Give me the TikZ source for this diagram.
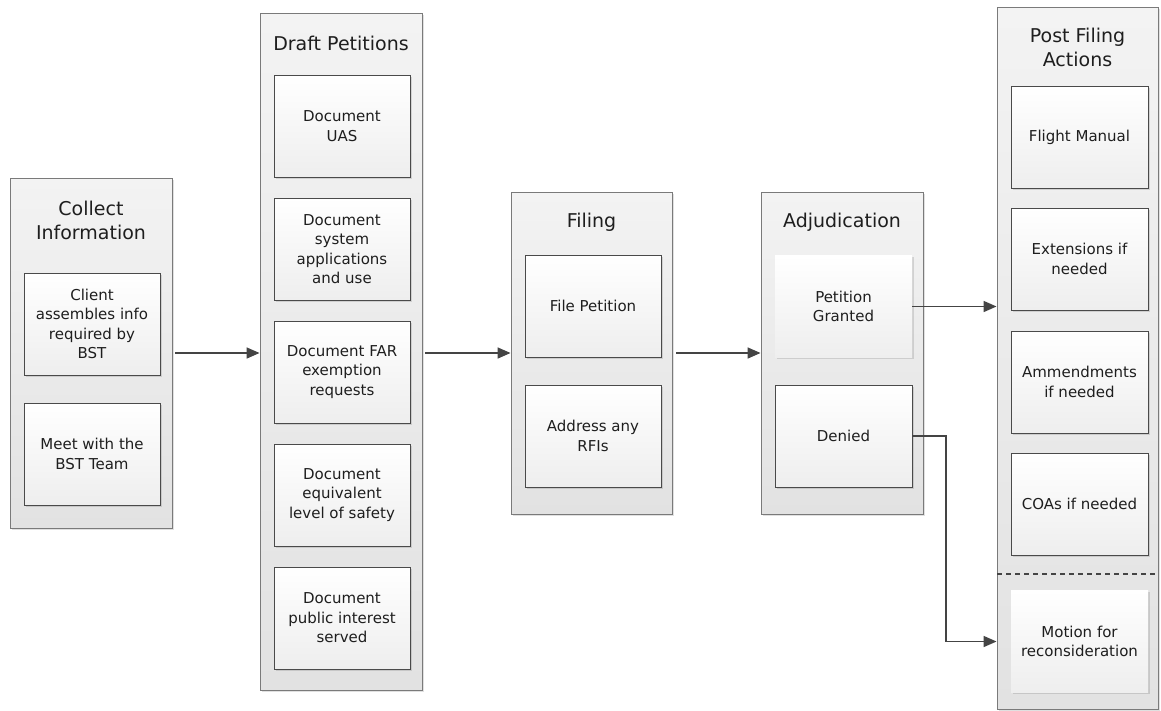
\documentclass[tikz,border=0pt]{standalone}
\usepackage{fontspec}
\setmainfont{DejaVu Sans}
\usetikzlibrary{arrows.meta,shadows}
\definecolor{txt}{HTML}{1E1E1E}
\definecolor{lnc}{HTML}{444444}
\definecolor{cbord}{HTML}{7A7A7A}
\definecolor{ctop}{HTML}{F3F3F3}
\definecolor{cbot}{HTML}{E2E2E2}
\definecolor{bbord}{HTML}{4A4A4A}
\definecolor{btop}{HTML}{FFFFFF}
\definecolor{bbot}{HTML}{EEEEEE}
\tikzset{
  lane/.style={draw=cbord, line width=0.9pt, top color=ctop, bottom color=cbot,
    minimum width=#1, inner sep=0pt,
    drop shadow={shadow xshift=2pt, shadow yshift=-2pt, opacity=0.12, fill=black}},
  lanetitle/.style={text=txt, align=center, font=\fontsize{19}{24}\selectfont, inner sep=0pt},
  stepbox/.style={draw=bbord, line width=0.9pt, top color=btop, bottom color=bbot,
    minimum width=136pt, minimum height=102pt, inner sep=0pt, align=center,
    text=txt, font=\fontsize{15}{19.5}\selectfont,
    drop shadow={shadow xshift=1.5pt, shadow yshift=-1.5pt, opacity=0.12, fill=black}},
  plainbox/.style={stepbox, draw=none},
  flow/.style={draw=lnc, line width=1.6pt, -{Triangle[length=13pt,width=11pt]}},
}
\begin{document}
\begin{tikzpicture}[x=1pt,y=-1pt]
\useasboundingbox (0,0) rectangle (1161,710);
% containers
\node[lane=162pt, minimum height=350pt] (collect) at (91,353) {};
\node[lane=162pt, minimum height=677pt] (draft) at (341,351.5) {};
\node[lane=161pt, minimum height=322pt] (filing) at (591.5,353) {};
\node[lane=162pt, minimum height=322pt] (adjud) at (842,353) {};
\node[lane=161pt, minimum height=702pt] (post) at (1077.5,358) {};
% titles
\node[lanetitle] (tcollect) at (91,220) {Collect\\Information};
\node[lanetitle] (tdraft) at (341,43) {Draft Petitions};
\node[lanetitle] (tfiling) at (591.5,222) {Filing};
\node[lanetitle] (tadjud) at (842,222) {Adjudication};
\node[lanetitle] (tpost) at (1077.5,47.5) {Post Filing\\Actions};
% collect
\node[stepbox] (client) at (92,324) {Client\\assembles info\\required by\\BST};
\node[stepbox] (meet) at (92,454) {Meet with the\\BST Team};
% draft
\node[stepbox] (d1) at (342,126) {Document\\UAS};
\node[stepbox] (d2) at (342,249) {Document\\system\\applications\\and use};
\node[stepbox] (d3) at (342,372) {Document FAR\\exemption\\requests};
\node[stepbox] (d4) at (342,495) {Document\\equivalent\\level of safety};
\node[stepbox] (d5) at (342,618) {Document\\public interest\\served};
% filing
\node[stepbox] (file) at (593,306) {File Petition};
\node[stepbox] (rfi) at (593,436) {Address any\\RFIs};
% adjudication
\node[plainbox, minimum width=137pt] (granted) at (843.5,306.5) {Petition\\Granted};
\node[stepbox, minimum width=137pt] (denied) at (843.5,436) {Denied};
% post filing
\node[stepbox, minimum width=137pt] (p1) at (1079.5,137) {Flight Manual};
\node[stepbox, minimum width=137pt] (p2) at (1079.5,259) {Extensions if\\needed};
\node[stepbox, minimum width=137pt] (p3) at (1079.5,382) {Ammendments\\if needed};
\node[stepbox, minimum width=137pt] (p4) at (1079.5,504) {COAs if needed};
\coordinate (dashL) at (997,574);
\coordinate (dashR) at (1158,574);
\draw[draw=lnc, line width=1.2pt, dash pattern=on 5pt off 4pt] (dashL) -- (dashR);
\node[plainbox, minimum width=137pt] (motion) at (1079.5,641.5) {Motion for\\reconsideration};
% connectors
\draw[flow, shorten <=3pt] (collect.east |- 0,353) -- (draft.west |- 0,353);
\draw[flow, shorten <=3pt] (draft.east |- 0,353) -- (filing.west |- 0,353);
\draw[flow, shorten <=4pt] (filing.east) -- (adjud.west);
\draw[flow] (granted.east) -- (granted.east -| post.west);
\coordinate (bend) at (946,436);
\draw[flow] (denied.east) -- (bend) |- (motion.west -| post.west);
\end{tikzpicture}
\end{document}
